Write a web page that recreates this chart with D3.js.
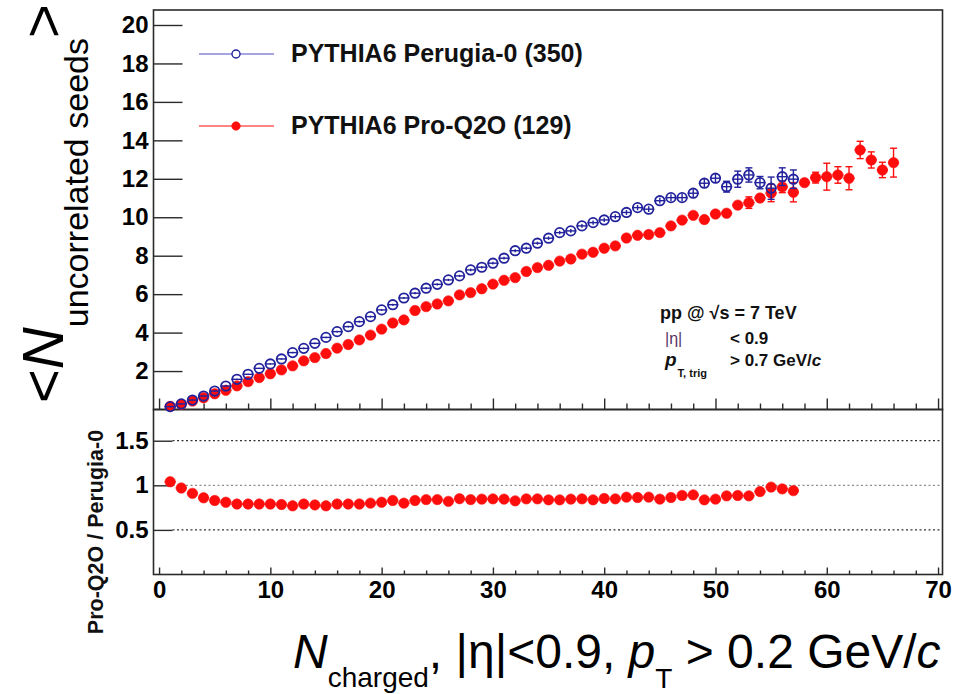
<!DOCTYPE html>
<html><head><meta charset="utf-8">
<script src="https://cdn.jsdelivr.net/npm/d3@7"></script>
<style>
body{margin:0;background:#fff;}
svg{display:block;font-family:"Liberation Sans",Arial,Helvetica,sans-serif;}
</style></head><body>
<svg id="c" width="955" height="694"></svg>
<script>
// ---------------- data ----------------
const nchPerugia = [1,2,3,4,5,6,7,8,9,10,11,12,13,14,15,16,17,18,19,20,21,22,23,24,25,26,27,28,29,30,31,32,33,34,35,36,37,38,39,40,41,42,43,44,45,46,47,48,49,50,51,52,53,54,55,56,57];
const perugia = [0.15,0.29,0.49,0.70,0.96,1.22,1.57,1.83,2.14,2.37,2.63,2.96,3.18,3.44,3.75,4.05,4.31,4.57,4.83,5.18,5.45,5.80,6.05,6.31,6.51,6.74,6.95,7.26,7.40,7.61,7.87,8.26,8.39,8.65,8.91,9.20,9.29,9.55,9.72,9.86,10.03,10.25,10.50,10.42,10.86,11.02,11.02,11.25,11.77,12.03,11.59,11.98,12.20,11.80,11.51,12.11,11.98];
const perugiaErr = [0.03,0.03,0.03,0.03,0.03,0.03,0.03,0.03,0.03,0.03,0.04,0.04,0.04,0.04,0.04,0.04,0.05,0.05,0.05,0.05,0.05,0.05,0.06,0.06,0.06,0.06,0.06,0.07,0.07,0.07,0.07,0.08,0.08,0.08,0.09,0.09,0.10,0.10,0.11,0.11,0.12,0.13,0.14,0.15,0.15,0.17,0.19,0.20,0.22,0.22,0.28,0.42,0.37,0.32,0.58,0.46,0.48];
const nchProq2o = [1,2,3,4,5,6,7,8,9,10,11,12,13,14,15,16,17,18,19,20,21,22,23,24,25,26,27,28,29,30,31,32,33,34,35,36,37,38,39,40,41,42,43,44,45,46,47,48,49,50,51,52,53,54,55,56,57,58,59,60,61,62,63,64,65,66];
const proq2o = [0.16,0.27,0.44,0.61,0.82,1.00,1.23,1.45,1.66,1.86,2.06,2.27,2.53,2.70,2.91,3.19,3.38,3.62,3.87,4.18,4.50,4.66,5.15,5.35,5.49,5.65,5.96,6.08,6.28,6.52,6.72,6.86,7.18,7.38,7.50,7.72,7.83,8.08,8.18,8.39,8.51,8.92,9.06,9.10,9.20,9.55,9.85,10.10,9.88,10.17,10.21,10.63,10.76,11.00,11.26,11.58,11.30,11.80,12.06,12.11,12.20,12.03,13.50,12.98,12.46,12.84];
const proq2oErr = [0.03,0.03,0.03,0.03,0.03,0.03,0.03,0.03,0.03,0.03,0.04,0.04,0.04,0.04,0.04,0.05,0.05,0.05,0.05,0.05,0.06,0.06,0.06,0.06,0.06,0.07,0.07,0.07,0.07,0.08,0.08,0.08,0.09,0.09,0.09,0.10,0.10,0.11,0.11,0.12,0.12,0.13,0.14,0.14,0.15,0.16,0.17,0.18,0.19,0.20,0.22,0.24,0.30,0.22,0.45,0.30,0.50,0.22,0.28,0.70,0.43,0.60,0.45,0.42,0.40,0.75];
const nchRatio = [1,2,3,4,5,6,7,8,9,10,11,12,13,14,15,16,17,18,19,20,21,22,23,24,25,26,27,28,29,30,31,32,33,34,35,36,37,38,39,40,41,42,43,44,45,46,47,48,49,50,51,52,53,54,55,56,57];
const ratio = [1.04,0.97,0.91,0.86,0.83,0.81,0.79,0.79,0.79,0.79,0.785,0.77,0.79,0.78,0.77,0.79,0.79,0.79,0.80,0.81,0.83,0.80,0.83,0.84,0.84,0.82,0.85,0.84,0.845,0.848,0.845,0.826,0.848,0.848,0.837,0.837,0.845,0.848,0.837,0.852,0.848,0.867,0.863,0.867,0.845,0.863,0.886,0.893,0.837,0.845,0.882,0.886,0.882,0.93,0.98,0.96,0.94];

const yTopTicks = [2,4,6,8,10,12,14,16,18,20];
const yRatioTicks = [0.5,1,1.5];
const xMajorTicks = [0,10,20,30,40,50,60,70];
const xMinorTicks = [2,4,6,8,12,14,16,18,22,24,26,28,32,34,36,38,42,44,46,48,52,54,56,58,62,64,66,68];
const legendLabels = ["PYTHIA6 Perugia-0 (350)","PYTHIA6 Pro-Q2O (129)"];

// ---------------- layout ----------------
const svg = d3.select("#c");
const L = 153.5, R = 942.5, T = 10, M = 409.5, B = 574.5;
const BLUE = "#22229c", RED = "#ff0d0d", FRAME = "#2a2a2a";

const x = d3.scaleLinear().domain([-0.5, 70.4]).range([L, R]);
const yTop = d3.scaleLinear().domain([0, 20.78]).range([M, T]);
const yRat = d3.scaleLinear().domain([0, 1.85]).range([B, M]);

function styleAxis(g, size){
  g.select(".domain").remove();
  g.selectAll(".tick line").attr("stroke", FRAME).attr("stroke-width", 1.4);
  g.selectAll(".tick text").attr("fill","#000").attr("font-size", size).attr("font-weight","bold")
    .attr("font-family",'"Liberation Sans",Arial,sans-serif');
}

// top panel axes
const gyTop = svg.append("g").attr("transform",`translate(${L},0)`)
  .call(d3.axisLeft(yTop).tickValues(yTopTicks).tickSize(-29).tickPadding(5).tickFormat(d3.format("d")));
styleAxis(gyTop, 24);
const gxTopMaj = svg.append("g").attr("transform",`translate(0,${M})`)
  .call(d3.axisBottom(x).tickValues(xMajorTicks).tickSize(-11).tickFormat(""));
styleAxis(gxTopMaj, 0);
const gxTopMin = svg.append("g").attr("transform",`translate(0,${M})`)
  .call(d3.axisBottom(x).tickValues(xMinorTicks).tickSize(-6).tickFormat(""));
styleAxis(gxTopMin, 0);

// ratio panel axes
const gyRat = svg.append("g").attr("transform",`translate(${L},0)`)
  .call(d3.axisLeft(yRat).tickValues(yRatioTicks).tickSize(-19).tickPadding(5).tickFormat(d => d===1?"1":d3.format(".1f")(d)));
styleAxis(gyRat, 24);
const gxRatMaj = svg.append("g").attr("transform",`translate(0,${B})`)
  .call(d3.axisBottom(x).tickValues(xMajorTicks).tickSize(-7).tickPadding(6.5).tickFormat(d3.format("d")));
styleAxis(gxRatMaj, 24);
const gxRatMin = svg.append("g").attr("transform",`translate(0,${B})`)
  .call(d3.axisBottom(x).tickValues(xMinorTicks).tickSize(-4).tickFormat(""));
styleAxis(gxRatMin, 0);

// dotted reference lines in ratio panel
svg.append("g").selectAll("line").data(yRatioTicks).join("line")
  .attr("x1", L + 19).attr("x2", R)
  .attr("y1", d => yRat(d)).attr("y2", d => yRat(d))
  .attr("stroke", d => d===1 ? "#8a8a8a" : "#333")
  .attr("stroke-width", 1.3).attr("stroke-dasharray","2,2.5");

// frames
svg.append("rect").attr("x",L).attr("y",T).attr("width",R-L).attr("height",M-T)
  .attr("fill","none").attr("stroke",FRAME).attr("stroke-width",1.6);
svg.append("rect").attr("x",L).attr("y",M).attr("width",R-L).attr("height",B-M)
  .attr("fill","none").attr("stroke",FRAME).attr("stroke-width",1.6);

// series drawing
function drawSeries(xs, ys, errs, yS, color, filled){
  const g = svg.append("g");
  const pts = xs.map((d,i)=>({x:d, y:ys[i], e: errs ? errs[i] : 0}));
  g.selectAll("line.h").data(pts).join("line").attr("class","h")
    .attr("x1", d => x(d.x-0.5)).attr("x2", d => x(d.x+0.5))
    .attr("y1", d => yS(d.y)).attr("y2", d => yS(d.y))
    .attr("stroke", color).attr("stroke-width", 1.4);
  g.selectAll("line.v").data(pts).join("line").attr("class","v")
    .attr("x1", d => x(d.x)).attr("x2", d => x(d.x))
    .attr("y1", d => yS(d.y - d.e)).attr("y2", d => yS(d.y + d.e))
    .attr("stroke", color).attr("stroke-width", 1.4);
  const caps = pts.filter(d => Math.abs(yS(d.y+d.e)-yS(d.y)) > 5);
  g.selectAll("line.c1").data(caps).join("line").attr("class","c1")
    .attr("x1", d => x(d.x)-3.5).attr("x2", d => x(d.x)+3.5)
    .attr("y1", d => yS(d.y + d.e)).attr("y2", d => yS(d.y + d.e))
    .attr("stroke", color).attr("stroke-width", 1.4);
  g.selectAll("line.c2").data(caps).join("line").attr("class","c2")
    .attr("x1", d => x(d.x)-3.5).attr("x2", d => x(d.x)+3.5)
    .attr("y1", d => yS(d.y - d.e)).attr("y2", d => yS(d.y - d.e))
    .attr("stroke", color).attr("stroke-width", 1.4);
  g.selectAll("circle").data(pts).join("circle")
    .attr("cx", d => x(d.x)).attr("cy", d => yS(d.y))
    .attr("r", filled ? 5.2 : 4.7)
    .attr("fill", filled ? color : "none")
    .attr("stroke", color).attr("stroke-width", filled ? 0.6 : 1.8);
}
drawSeries(nchProq2o, proq2o, proq2oErr, yTop, RED, true);
drawSeries(nchPerugia, perugia, perugiaErr, yTop, BLUE, false);
drawSeries(nchRatio, ratio, null, yRat, RED, true);

// legend
const legY = [54, 126];
const legCol = ["#4d4dc4", RED];
legendLabels.forEach((lab,i)=>{
  svg.append("line").attr("x1",199).attr("x2",274).attr("y1",legY[i]).attr("y2",legY[i])
    .attr("stroke",legCol[i]).attr("stroke-width",1.2);
  svg.append("circle").attr("cx",236).attr("cy",legY[i]).attr("r",i===0?4:4.3)
    .attr("fill", i===0 ? "#fff" : RED).attr("stroke", i===0 ? BLUE : RED).attr("stroke-width", i===0?1.4:0.5);
  svg.append("text").attr("x",291).attr("y",legY[i]+7.5).attr("font-size",25).attr("font-weight","bold")
    .attr("fill","#111").text(lab);
});

// annotation
const ann = svg.append("g").attr("font-weight","bold").attr("font-size",17).attr("fill","#111");
ann.append("text").attr("x",660).attr("y",319).attr("font-size",18).text("pp @  \u221As = 7 TeV");
ann.append("text").attr("x",665).attr("y",344).attr("font-size",16).attr("font-weight","normal").attr("fill","#553366").text("|\u03B7|");
ann.append("text").attr("x",730).attr("y",344).text("<  0.9");
const pt = ann.append("text").attr("x",665).attr("y",366);
pt.append("tspan").attr("font-style","italic").attr("font-size",19).text("p");
pt.append("tspan").attr("font-size",11).attr("dy",11).attr("dx",1).text("T, trig");
const gt = ann.append("text").attr("x",730).attr("y",366);
gt.append("tspan").text(">  0.7 GeV/");
gt.append("tspan").attr("font-style","italic").text("c");

// y title (top)
const yt = svg.append("text").attr("transform","translate(63,403) rotate(-90)")
  .attr("font-size",58).attr("fill","#000").attr("text-anchor","start");
yt.append("tspan").text("<");
yt.append("tspan").attr("font-style","italic").text("N");
yt.append("tspan").attr("font-size",34).attr("dy",25).text("uncorrelated seeds");
yt.append("tspan").attr("dy",-25).text(">");

// y title (ratio)
svg.append("text").attr("transform","translate(103,532) rotate(-90)")
  .attr("font-size",21.5).attr("font-weight","bold").attr("text-anchor","middle").attr("fill","#111")
  .text("Pro-Q2O / Perugia-0");

// x title
const xt = svg.append("text").attr("x",293).attr("y",668).attr("font-size",48).attr("fill","#000");
xt.append("tspan").attr("font-style","italic").text("N");
xt.append("tspan").attr("font-size",28).attr("dy",19).text("charged");
xt.append("tspan").attr("dy",-19).text(", |\u03B7|<0.9, ");
xt.append("tspan").attr("font-style","italic").text("p");
xt.append("tspan").attr("font-size",28).attr("dy",20).text("T");
xt.append("tspan").attr("dy",-20).text(" > 0.2 GeV/");
xt.append("tspan").attr("font-style","italic").text("c");
</script>
</body></html>
